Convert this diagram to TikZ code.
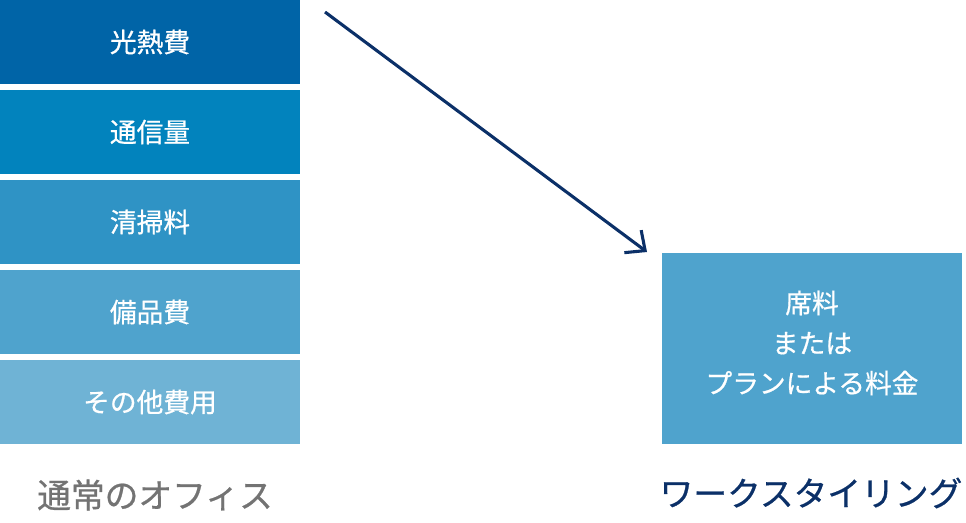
\documentclass[tikz,border=0pt]{standalone}
\usepackage{fontspec}
\newfontfamily\jp[FakeBold=0.7]{Noto Sans CJK JP}
\usetikzlibrary{arrows.meta}
\definecolor{rowA}{HTML}{0064A7}
\definecolor{rowB}{HTML}{0283BD}
\definecolor{rowC}{HTML}{2F93C5}
\definecolor{rowD}{HTML}{4FA3CD}
\definecolor{rowE}{HTML}{6FB3D5}
\definecolor{navy}{HTML}{0B3068}
\begin{document}
\begin{tikzpicture}[x=0.025cm,y=-0.025cm,
  cost/.style={minimum width=7.5cm,minimum height=2.1cm,inner sep=0pt,
    text=white,font=\jp\fontsize{19}{22}\selectfont},
  caption/.style={font=\jp\fontsize{24}{28}\selectfont}]
\useasboundingbox (0,0) rectangle (966,522);
% normal office
\node[cost,fill=rowA] (kounetsu) at (150,42)  {光熱費};
\node[cost,fill=rowB] (tsuushin) at (150,132) {通信量};
\node[cost,fill=rowC] (seisou)   at (150,222) {清掃料};
\node[cost,fill=rowD] (bihin)    at (150,312) {備品費};
\node[cost,fill=rowE] (sonota)   at (150,402) {その他費用};
\node[caption,text=black!55] (office) at (155,495) {通常のオフィス};
% work styling
\node[cost,fill=rowD,minimum height=4.75cm] (seki) at (812,348.5) {};
\node[cost,align=center,font=\jp\fontsize{19}{28.5}\selectfont] (sekitext) at (812,343)
  {席料\\または\\プランによる料金};
\node[caption,text=navy] (ws) at (811,493) {ワークスタイリング};
% arrow
\coordinate (from) at (325,12);
\coordinate (to) at (647,252);
\draw[navy,line width=2.2pt,-{Straight Barb[length=11pt,width=20pt,line width=2.2pt]}] (from) -- (to);
\end{tikzpicture}
\end{document}
